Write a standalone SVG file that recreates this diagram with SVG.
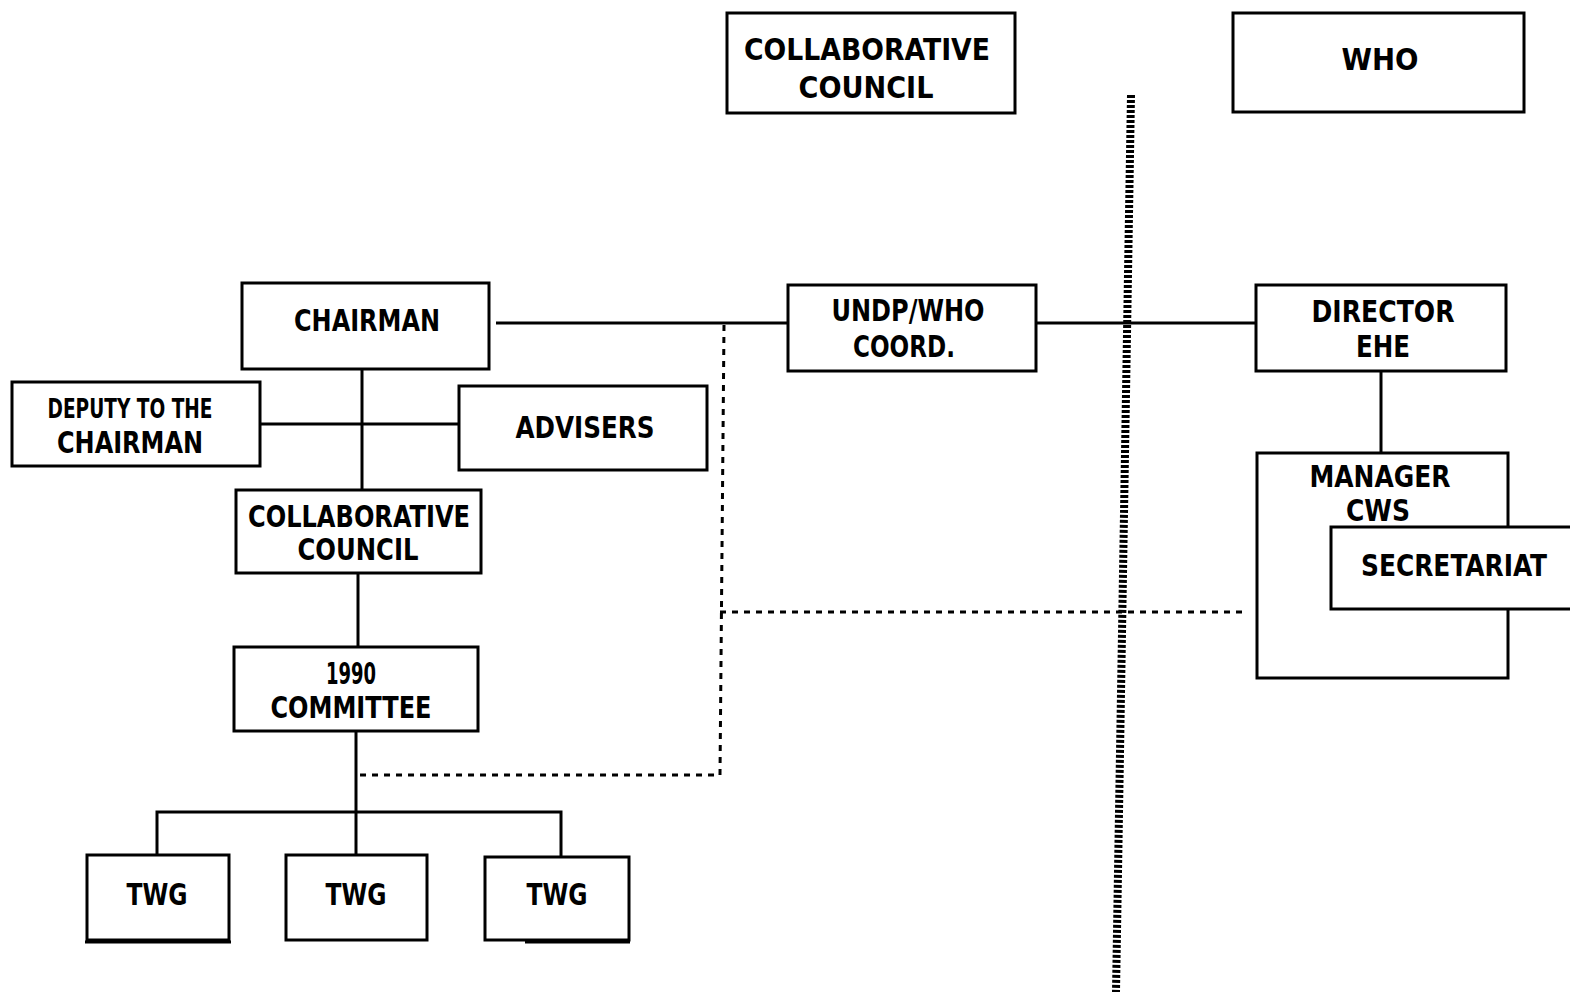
<svg xmlns="http://www.w3.org/2000/svg" width="1570" height="994" viewBox="0 0 1570 994">
<style>
.box{fill:#fff;stroke:#000;stroke-width:3}
.t{font-family:"DejaVu Sans Condensed","DejaVu Sans",sans-serif;font-weight:bold;font-size:31px;fill:#000;text-anchor:middle}
.s{font-size:26px}
.ln{fill:none;stroke:#000;stroke-width:3}
.dash{fill:none;stroke:#000;stroke-width:3;stroke-dasharray:6 6}
.wall{fill:none;stroke:#000;stroke-width:8;stroke-dasharray:3 2}
</style>
<rect width="1570" height="994" fill="#fff"/>
<g id="connectors">
<line class="ln" x1="496" y1="323" x2="788" y2="323"/>
<line class="ln" x1="1036" y1="323" x2="1256" y2="323"/>
<line class="ln" x1="362" y1="369" x2="362" y2="490"/>
<line class="ln" x1="260" y1="424" x2="459" y2="424"/>
<line class="ln" x1="358" y1="573" x2="358" y2="647"/>
<line class="ln" x1="356" y1="731" x2="356" y2="855"/>
<polyline class="ln" points="157,855 157,812 561,812 561,857"/>
<line class="ln" x1="1381" y1="371" x2="1381" y2="453"/>
<polyline class="dash" points="724,325 720,775 357,775"/>
<line class="dash" x1="720" y1="612" x2="1248" y2="612"/>
<line class="wall" x1="1131" y1="95" x2="1116" y2="992"/>
<line class="ln" x1="85" y1="942" x2="231" y2="942"/>
<line class="ln" x1="525" y1="942" x2="630" y2="942"/>
</g>
<g id="top-collab-council"><rect class="box" x="727" y="13" width="288" height="100"/><text class="t" x="867" y="60" textLength="246" lengthAdjust="spacingAndGlyphs">COLLABORATIVE</text><text class="t" x="866" y="98" textLength="135" lengthAdjust="spacingAndGlyphs">COUNCIL</text></g>
<g id="who"><rect class="box" x="1233" y="13" width="291" height="99"/><text class="t" x="1380" y="70" textLength="77" lengthAdjust="spacingAndGlyphs">WHO</text></g>
<g id="chairman"><rect class="box" x="242" y="283" width="247" height="86"/><text class="t" x="367" y="331" textLength="146" lengthAdjust="spacingAndGlyphs">CHAIRMAN</text></g>
<g id="undp"><rect class="box" x="788" y="285" width="248" height="86"/><text class="t" x="908" y="321" textLength="153" lengthAdjust="spacingAndGlyphs">UNDP/WHO</text><text class="t" x="904" y="357" textLength="102" lengthAdjust="spacingAndGlyphs">COORD.</text></g>
<g id="director"><rect class="box" x="1256" y="285" width="250" height="86"/><text class="t" x="1383" y="322" textLength="143" lengthAdjust="spacingAndGlyphs">DIRECTOR</text><text class="t" x="1383" y="357" textLength="54" lengthAdjust="spacingAndGlyphs">EHE</text></g>
<g id="deputy"><rect class="box" x="12" y="382" width="248" height="84"/><text class="t s" x="130" y="418" textLength="165" lengthAdjust="spacingAndGlyphs">DEPUTY TO THE</text><text class="t" x="130" y="453" textLength="146" lengthAdjust="spacingAndGlyphs">CHAIRMAN</text></g>
<g id="advisers"><rect class="box" x="459" y="386" width="248" height="84"/><text class="t" x="585" y="438" textLength="139" lengthAdjust="spacingAndGlyphs">ADVISERS</text></g>
<g id="collab-council"><rect class="box" x="236" y="490" width="245" height="83"/><text class="t" x="359" y="527" textLength="222" lengthAdjust="spacingAndGlyphs">COLLABORATIVE</text><text class="t" x="358" y="560" textLength="121" lengthAdjust="spacingAndGlyphs">COUNCIL</text></g>
<g id="committee"><rect class="box" x="234" y="647" width="244" height="84"/><text class="t" x="351" y="684" textLength="50" lengthAdjust="spacingAndGlyphs">1990</text><text class="t" x="351" y="718" textLength="161" lengthAdjust="spacingAndGlyphs">COMMITTEE</text></g>
<g id="twg1"><rect class="box" x="87" y="855" width="142" height="85"/><text class="t" x="157" y="905" textLength="61" lengthAdjust="spacingAndGlyphs">TWG</text></g>
<g id="twg2"><rect class="box" x="286" y="855" width="141" height="85"/><text class="t" x="356" y="905" textLength="61" lengthAdjust="spacingAndGlyphs">TWG</text></g>
<g id="twg3"><rect class="box" x="485" y="857" width="144" height="83"/><text class="t" x="557" y="905" textLength="61" lengthAdjust="spacingAndGlyphs">TWG</text></g>
<g id="manager"><rect class="box" x="1257" y="453" width="251" height="225"/><text class="t" x="1380" y="487" textLength="141" lengthAdjust="spacingAndGlyphs">MANAGER</text><text class="t" x="1378" y="521" textLength="64" lengthAdjust="spacingAndGlyphs">CWS</text></g>
<g id="secretariat"><rect class="box" x="1331" y="527" width="250" height="82"/><text class="t" x="1454" y="576" textLength="186" lengthAdjust="spacingAndGlyphs">SECRETARIAT</text></g>
</svg>
